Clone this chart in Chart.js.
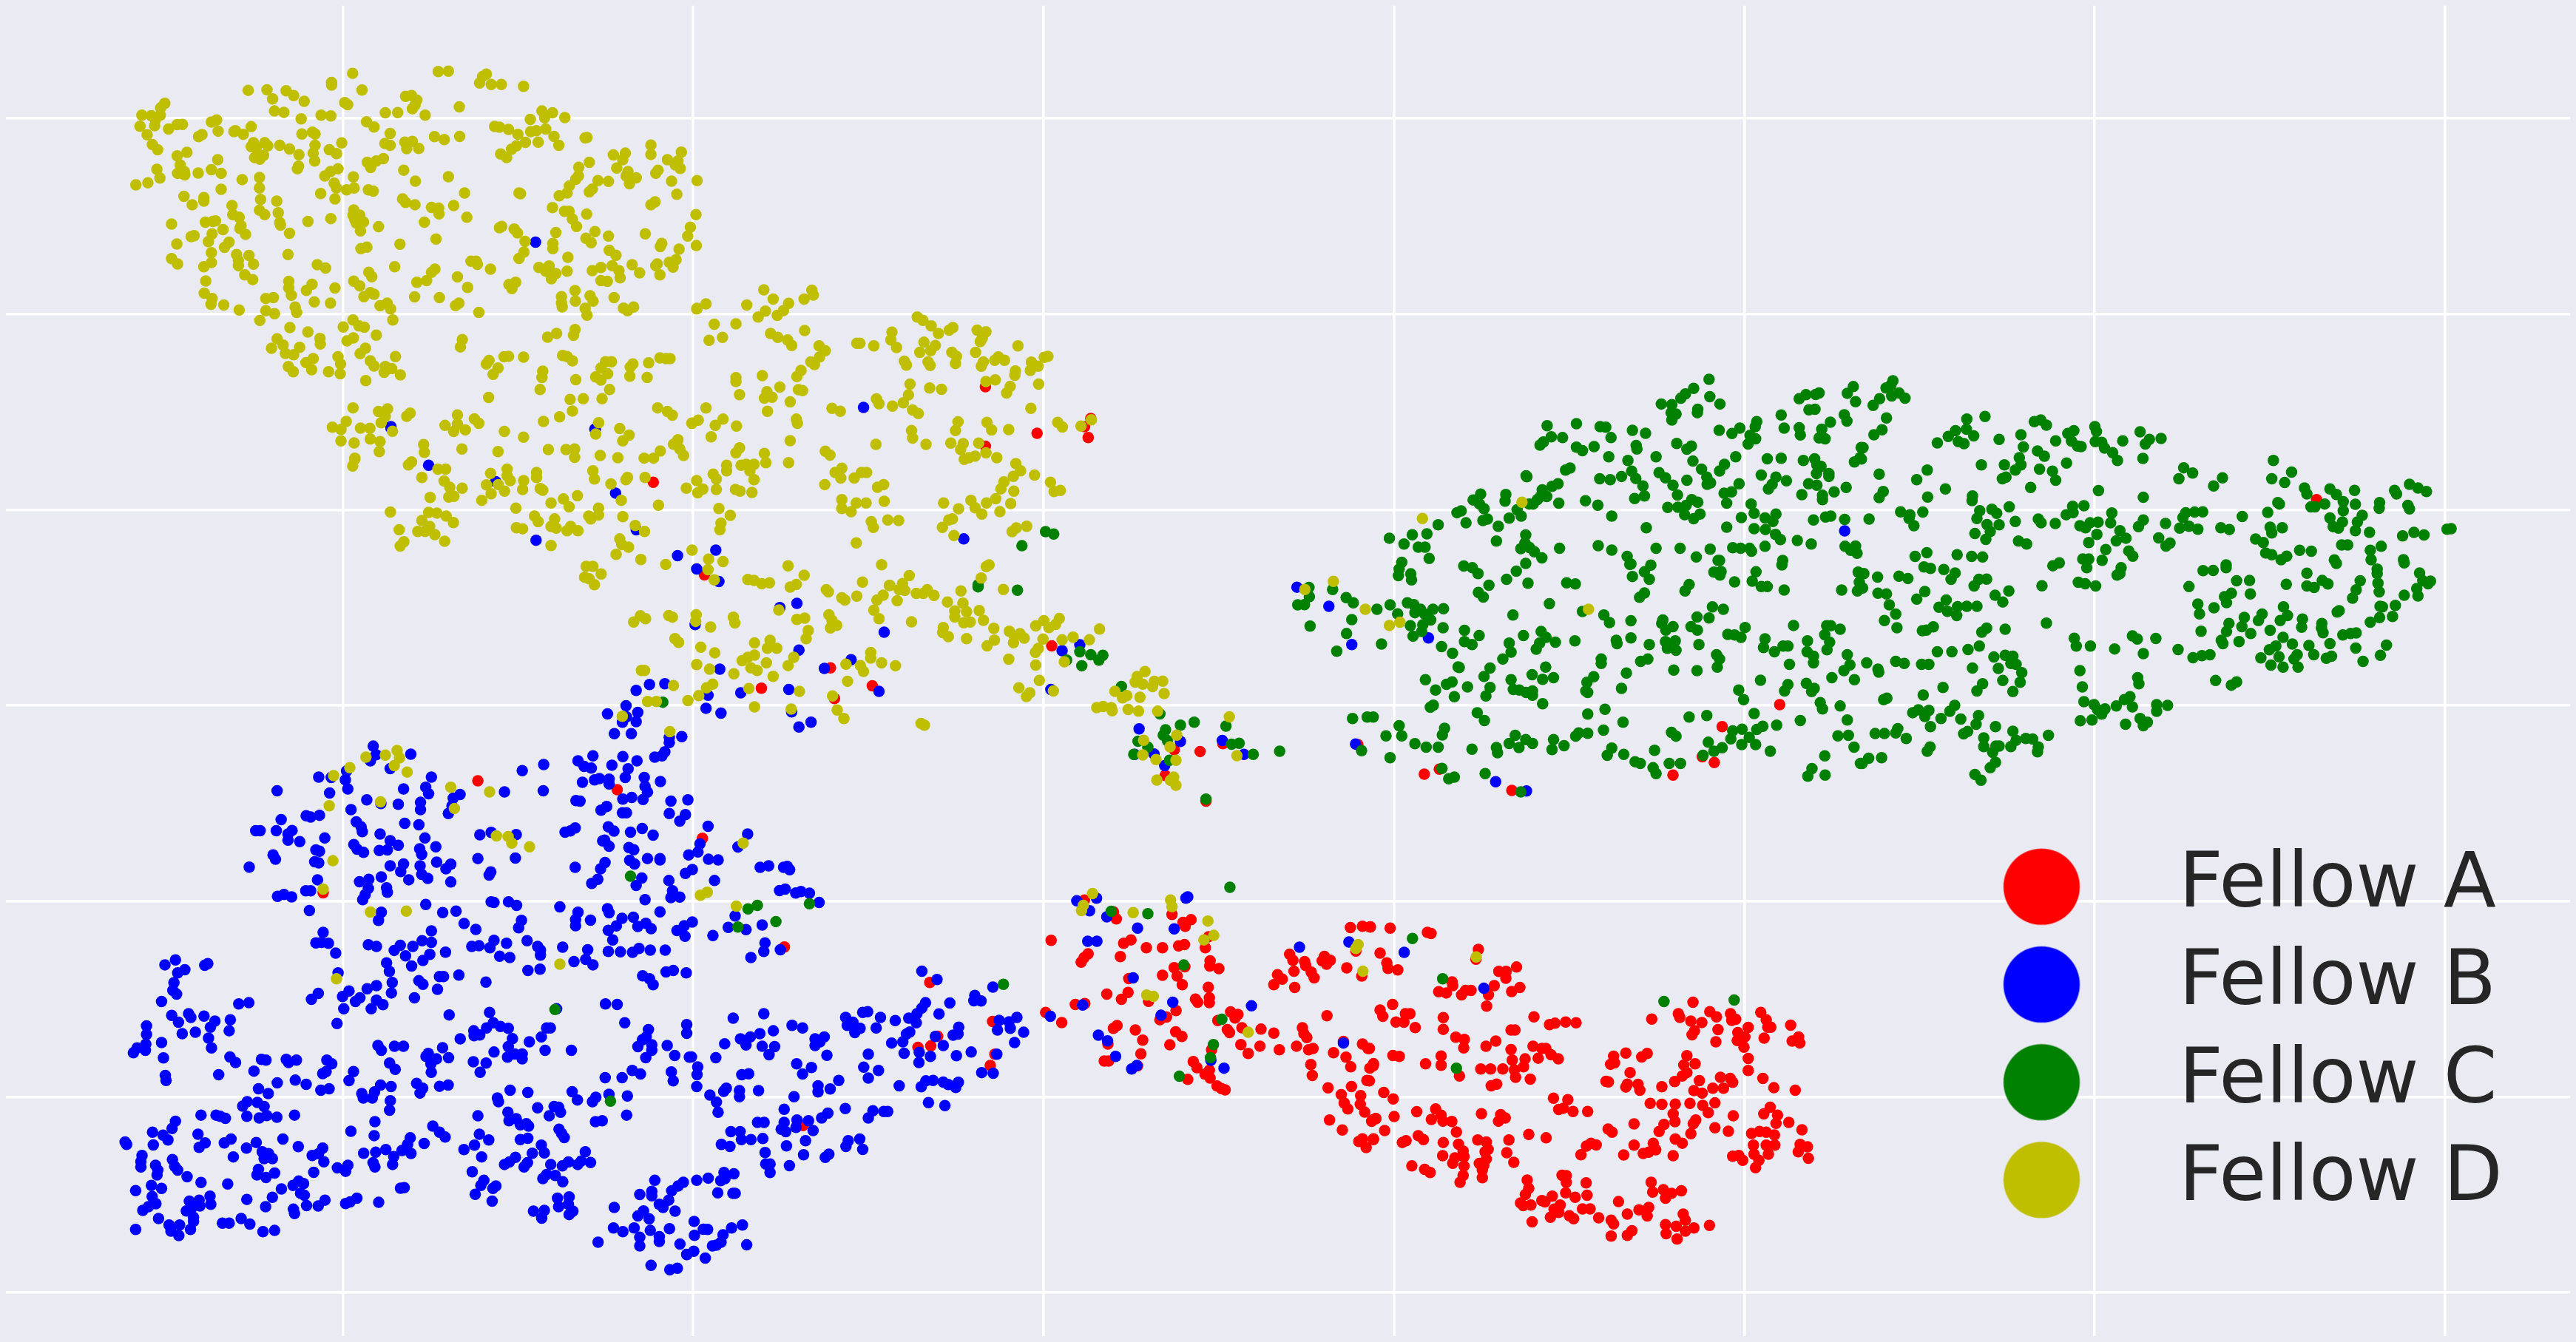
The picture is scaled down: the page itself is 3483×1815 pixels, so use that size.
<!DOCTYPE html>
<html><head><meta charset="utf-8"><title>Fellows t-SNE</title>
<style>html,body{margin:0;padding:0;background:#EAEAF2}canvas{display:block}</style>
<script src="https://cdn.jsdelivr.net/npm/chart.js@4/dist/chart.umd.min.js"></script>
</head><body><canvas id="c" width="3483" height="1815"></canvas>
<script>
const seriesNames=["Fellow A","Fellow B","Fellow C","Fellow D"];
const seriesColors=["#FF0000","#0000FF","#008000","#BFBF00"];
const xTicks=[-20,-10,0,10,20,30,40];
const yTicks=[30,20,10,0,-10,-20,-30];
const views={v1:[140,60,1.96,2.8],v2:[420,380,1.4255,2.24],v3:[1200,700,2.62,3],v4:[1720,480,1.96,2.529],v5:[2500,480,1.823,2.529],v6:[300,900,1.823,3],v7:[130,1280,1.96,3],v8:[780,1280,2.24,3],v9:[1380,1170,2.01,2.8],v10:[1850,1230,2.412,3]};

const yellow1=[649,90,877,83,904,82,1005,93,995,102,987,127,1018,133,1045,133,1104,140,593,125,593,135,674,154,371,155,421,153,472,157,436,188,492,175,520,197,628,202,636,210,790,178,806,175,820,193,815,212,808,225,933,218,736,241,769,240,842,250,441,234,466,239,512,264,565,250,591,253,1153,234,1181,241,1160,260,1214,259,1122,266,149,205,138,222,137,250,88,250,113,252,124,268,122,290,83,292,159,303,182,286,196,285,273,276,287,268,291,311,379,294,337,309,333,313,358,323,248,324,239,332,102,325,116,362,130,382,514,322,542,315,549,322,686,275,706,295,749,320,1027,293,1040,296,1064,304,1089,323,1123,313,1138,309,1163,303,1185,331,867,332,893,343,934,331,1273,335,1268,337,385,355,379,370,415,355,423,367,392,375,412,403,388,412,402,418,455,365,481,379,506,401,549,365,544,395,548,425,620,356,587,382,606,397,735,358,749,365,788,353,808,350,793,378,825,377,1109,354,1085,367,1072,380,1143,353,1198,365,1043,398,1059,412,1443,364,1443,400,1343,402,1375,395,1368,420,1524,391,1487,420,1279,430,1251,449,1352,452,1515,425,1508,440,1521,453,208,392,182,405,290,420,190,440,505,445,502,455,688,430,697,450,712,425,731,416,128,457,273,458,190,470,201,465,202,478,183,472,238,471,299,472,136,490,610,455,590,465,575,482,651,486,785,460,904,485,1250,482,1243,495,1382,465,1377,482,1404,489,1386,512,1462,460,1456,472,1302,500,1330,503,1498,502,1566,500,72,516,104,508,355,496,401,488,401,528,816,502,600,510,606,528,633,535,653,528,691,535,704,540,299,533,200,560,253,565,253,578,222,592,947,547,1092,547,1096,550,1226,520,1220,547,1199,558,1287,532,1279,543,564,549,602,570,447,578,404,572,782,570,790,583,815,592,1512,552,328,595,859,602,878,605,879,627,918,595,401,613,415,630,451,623,652,612,650,632,668,632,655,650,659,662,678,658,330,630,347,640,1181,603,1213,617,1225,617,1234,647,1272,628,1443,592,1454,581,1563,630,953,640,591,645,530,656,840,659,257,659,277,656,284,654,167,666,352,672,349,683,455,660,457,670,1046,675,1040,680,1079,685,1088,700,1245,675,1548,678,718,676,670,692,304,687,364,705,481,701,1190,698,1294,695,1330,712,1428,703,1541,712,1270,720,1284,737,1108,732,1182,740,1182,760,871,723,275,703,227,710,219,714,320,735,265,733,181,742,308,755,775,743,1472,740,1468,752,671,760,687,754,1105,773,1092,797,1518,762,1564,748,1332,766,1350,785,273,775,340,782,373,786,477,782,1222,793,167,798,183,818,273,813,253,829,345,805,345,825,385,819,555,821,577,834,761,829,964,808,978,808,981,820,1016,838,1145,832,1172,826,1163,846,1190,855,1178,875,1220,846,1287,844,1310,832,1340,825,1358,844,1361,871,1393,821,1413,852,1460,818,1456,825,1492,812,1510,802,1502,830,1467,860,692,850,700,867,868,838,859,850,362,860,383,878,258,883,928,868,479,885,479,910,652,884,668,902,541,896,526,919,602,910,820,888,846,882,955,908,1065,897,1083,888,1073,912,1310,882,1327,885,1241,920,254,930,486,938,696,928,679,943,706,934,275,950,272,972,306,975,418,950,438,947,547,963,590,968,814,944,880,947,1205,943,1205,967,1207,982,1242,960,1281,940,1289,960,1345,947,1370,987,1381,997,1397,983,1566,988,722,978,741,968,750,990,932,968,923,977,985,1003,1268,988,1273,1014,496,983,500,1003,347,994,418,997,441,1008,402,1034,756,1032,650,1032,482,1061,624,1059,666,1055,680,1060,530,1078,712,1090,1192,1084,1241,1069,1237,1091,1168,1098,448,1104,562,1103,563,1124,651,1101,634,1112,941,1107,936,1135,464,1128,433,1140,508,1137,683,1140,669,1161,470,1160,492,1165,544,1180,610,1173,763,1172,696,1188,1012,1187,1005,1200,1052,1173,1064,1171,1104,1174,1208,1168,1220,1172,1234,1188,1338,1192,1322,1192,1395,1200,1388,1212,1437,1196,1467,1177,1483,1180,1494,1180,478,1210,525,1195,617,1200,706,1208,736,1210,753,1218,733,1232,491,1230,540,1222,585,1230,616,1238,776,1242,1036,1216,1023,1240,1155,1228,1153,1252,1310,1216,1328,1238,1296,1250,1310,1262,1387,1247,1433,1252,1243,1260,684,1264,1148,1298,1333,1298,1011,1328,1228,1336,1263,1333,1313,1333,1234,1380,650,1368,718,1382,742,1372,1461,1368,802,1388,793,1400,1487,1382,1500,1396,736,1400,725,1425,928,1395,973,1410,985,1427,1200,1402,1157,1420,1304,1425,632,1420,895,1435,928,1430,918,1458,949,1452,1053,1458,595,1442,618,1450,670,1445,695,1446,755,1457,1360,1447,1385,1472,1368,1494,1296,1468,1104,1480,1552,1426,696,1487,722,1497,618,1494,653,1502,1515,1490,1503,1507,838,1508,840,1538,720,1535,940,1525,1036,1535,1170,1527,1217,1527,1240,1525,1468,1533,1520,1525,1530,1550,655,1560,1240,1557,1308,1550,1355,1558,1425,1560,1450,1560];
const yellow2=[869,17,962,18,965,33,947,45,887,45,836,63,917,58,757,60,739,75,872,82,907,80,858,100,895,95,773,122,815,121,948,141,882,150,896,162,763,171,789,162,915,170,923,187,976,188,988,203,977,222,960,237,967,245,941,263,933,282,815,285,866,279,815,297,900,314,936,322,944,325,875,328,822,337,885,345,870,348,920,359,876,388,757,378,932,412,934,425,790,412,742,415,730,425,775,431,816,433,767,466,920,478,1166,100,1177,110,1193,127,1207,150,1228,140,1235,132,1282,140,1299,145,1292,165,1288,175,1361,188,1117,146,1115,170,1126,193,1049,180,1055,180,1082,188,1179,177,1201,187,1171,208,1192,203,1233,208,1242,220,1240,242,1279,208,1141,235,1145,247,1187,237,1191,248,1294,237,1290,250,1323,222,1316,232,1335,232,1387,238,1412,223,1419,220,1400,250,1385,263,1356,265,1355,278,1317,292,1299,297,1152,305,1190,317,1213,321,1401,305,1346,312,1339,332,1149,338,1087,350,1092,365,1139,362,1118,372,1001,379,1017,388,1157,384,1168,395,1386,379,1245,420,1301,422,1310,445,1240,447,1155,447,1157,470,1438,422,1447,436,1483,433,1503,414,1343,444,1183,489,1086,489,1231,485,1255,487,1285,485,1250,505,1299,515,1278,525,1266,530,1257,535,1320,530,988,510,997,522,822,500,815,515,870,517,873,545,917,545,797,553,797,570,835,550,825,553,850,550,842,570,850,597,1357,548,1366,570,1352,587,1393,583,1334,604,1424,605,1328,625,1353,632,1318,655,1431,633,1443,630,1020,562,1007,575,1018,592,1044,592,1058,575,1068,575,1101,612,1089,620,987,612,771,580,777,595,739,600,751,626,719,623,741,637,777,627,814,627,823,632,846,636,1020,658,1020,685,1048,668,1067,668,1102,663,1038,695,1217,668,1270,660,1278,683,1246,686,1300,668,1291,702,1326,695,1347,670,1234,717,1227,720,782,685,804,706,786,730,784,750,1077,725,1081,743,1109,720,1130,722,1048,790,73,555,77,535,181,552,187,543,238,565,253,565,207,590,250,601,261,620,285,623,223,651,259,650,269,648,146,696,340,578,372,565,372,585,378,600,332,613,355,612,367,632,341,640,323,660,404,600,402,627,429,575,429,590,436,624,441,629,389,684,457,668,481,656,492,680,508,646,538,570,541,595,573,610,605,590,602,597,639,590,593,660,665,675,220,697,236,699,254,708,268,728,207,722,222,740,199,755,213,755,232,765,251,785,172,787,165,800,163,750,390,744,402,747,425,708,432,725,457,740,464,717,467,745,488,753,495,740,509,753,530,708,534,717,549,684,549,705,596,710,620,737,638,755,590,778,594,795,607,803,457,798,583,825,631,841,679,856,730,812,762,840,761,872,790,847,916,860,1097,857,525,862,538,862,554,885,522,895,531,900,541,918,773,903,838,902,850,905,865,915,880,912,947,889,932,917,920,925,990,933,994,940,1020,958,1026,965,1049,953,1060,910,1112,920,1088,965,1100,950,898,995,933,1024,948,1020,995,1010,1001,1027,1010,1042,998,1050,1082,996,1092,1022,617,1032,630,1013,640,1022,685,1012,692,1017,738,1010,737,1030,766,1047,810,1017,813,1035,955,1058,951,1083,697,1083,704,1094,851,1096,881,1088,876,1112,894,1112,747,1109,774,1126,927,1140,851,1133,838,1140,827,1150,916,1165,874,1157,739,1162,844,1172,856,1180,764,1176,811,1190,887,1198,1076,1125,1076,1142,1028,1161,1056,1165,1062,1183,1097,1157,1031,1213,638,1180,632,1180,694,1226,770,1222,758,1233,840,1235,743,1257,722,1272,938,1244,644,1275,661,1275,851,1291,922,1298,1002,1258,1011,1301,1024,1327,595,1320,687,1367];
const yellow3=[189,35,230,68,437,52,452,37,489,30,355,188,345,195,327,242,406,289,71,232,47,265,2,272,35,290,55,293,28,335,96,305,121,305,135,290,159,313,255,295,207,340,262,345,233,377,233,402,275,380,320,375,265,425,288,422,335,415,79,421,192,445,190,465,210,482,275,490,372,448,427,460,465,470,445,480,480,488,442,507,374,496,348,520,521,438,550,417,568,445,592,432,605,408,547,492,615,495,654,484,712,495,748,451,530,530,520,546,425,574,521,598,22,601,623,585,534,661,461,691,500,712,488,727,584,704,910,625,882,645,875,668,902,676,943,665,973,664,937,686,978,715,803,706,845,723,830,732,892,730,738,772,761,768,790,772,793,785,850,780,887,787,955,787,113,837,125,844,1210,810,1023,885,905,906,999,933,902,966,949,985,1020,988,1237,969,1012,1057,1000,1070,952,1069,1020,1090];
const yellow4=[665,499,400,555,163,772,87,800,248,868,312,924,340,913,842,868];
const yellow6=[422,348,393,367,428,378,345,375,415,410,447,436,305,418,265,451,555,498,651,517,381,558,254,574,564,585,668,697,697,700,706,727,750,742,263,799,1279,727,239,915,1190,928,1173,940,1262,985,356,1009,445,1005,825,1222,272,1282];
const yellow9=[193,115,168,160,163,180,304,188,406,140,410,165,508,220,524,275,497,292,341,503,359,508,618,645,918,310,912,325,931,412];
const yellow10=[355,203];

const blue1=[1136,735,751,1445,1295,1450];
const blue2=[147,435,542,442,220,553,350,603,582,638,428,782,622,750,1062,376,702,829,776,812,739,870,782,908,900,988,933,975,736,1040,1102,1063,937,1118,1038,1147,1092,1244];
const blue3=[265,82,678,515,615,539,575,698,889,859,1036,911,942,962,980,1010,1185,907,1262,964,873,964];
const blue4=[1524,598,66,792,151,858,416,967,212,990,222,1333,595,1463,677,1495];
const blue6=[1047,78,1085,75,1014,102,1221,15,1480,12,1192,122,1273,112,1392,98,989,165,1187,175,1224,195,943,198,1018,192,990,210,1014,230,980,232,960,279,1002,279,1399,190,1447,232,1417,252,1096,295,1096,315,1127,291,1085,353,1060,375,1078,370,907,370,981,373,1016,390,870,390,885,413,903,420,954,408,994,423,987,458,1034,458,881,478,911,468,923,463,947,465,947,485,1074,475,1036,495,1042,518,1031,548,981,547,1003,540,1100,555,1142,550,865,553,875,555,941,577,927,592,980,603,990,603,1096,606,1136,610,1122,637,1192,658,363,330,370,365,356,390,456,363,405,422,297,432,259,458,228,457,294,468,300,505,507,457,125,513,255,522,438,505,493,498,500,525,732,430,785,405,784,513,688,517,578,528,561,543,347,550,382,565,425,568,480,560,480,590,558,575,549,606,308,590,197,615,208,620,230,613,135,631,321,640,333,660,336,680,441,646,476,652,72,676,83,676,123,676,162,675,152,690,152,715,181,721,243,706,380,690,491,706,655,683,627,693,717,692,838,682,851,677,863,665,945,660,959,678,1000,682,1029,667,1056,694,315,733,323,752,339,765,378,757,398,755,405,717,425,736,478,750,483,773,518,742,221,755,230,760,115,775,121,793,218,803,228,808,56,825,405,820,438,812,431,843,479,820,520,805,555,813,543,832,622,790,715,788,936,715,947,740,931,718,996,745,1008,754,1290,690,1266,743,1172,730,1167,763,1144,775,1193,793,1217,796,998,797,1010,812,1042,790,1073,790,1073,796,937,806,926,832,863,826,1153,835,1136,851,1321,826,1342,820,1379,826,1388,822,1394,836,654,845,650,858,483,855,498,871,451,877,383,865,555,886,352,875,329,885,225,877,1028,870,919,875,904,892,1014,900,1095,880,1208,880,196,922,208,922,142,937,126,945,161,947,351,912,396,910,398,928,343,938,337,958,1369,921,1383,915,1409,931,1422,925,1443,932,1104,922,1100,950,1122,948,1036,958,1467,970,655,967,662,970,698,967,718,982,825,988,943,995,947,1012,493,978,205,1003,383,1010,376,1043,535,1011,568,1005,870,1010,1073,1008,1259,1025,864,1040,864,1065,901,1042,979,1035,1007,1030,965,1066,945,1084,1018,1068,1038,1055,1051,1077,1153,1050,1133,1065,1115,1085,1135,1108,730,1043,723,1073,588,1056,617,1080,1242,1072,1286,1081,1326,1062,1204,1105,239,1092,507,1086,221,1135,235,1133,252,1137,351,1143,371,1150,484,1126,507,1133,461,1150,430,1145,415,1166,443,1188,270,1177,662,1125,693,1137,744,1126,607,1150,625,1147,652,1155,770,1150,777,1165,777,1185,832,1153,956,1123,1333,1135,1371,1163,1330,1170,1298,1195,945,1170,975,1172,1005,1174,1021,1158,1049,1165,1086,1165,894,1163,542,1173,503,1182,486,1207,676,1190,701,1195,458,1230,396,1217,403,1252,860,1212,889,1203,907,1225,746,1248,776,1243,1030,1270,1047,1282,1056,1306,1088,1254,1106,1248,1138,1258,527,1273,537,1273,575,1267,276,1258,476,1290,486,1305,642,1296,410,1297,522,1325,371,1310,348,1323,303,1332,287,1355,227,1342,210,1366,408,1340,465,1360,330,1360,319,1375,371,1370,387,1388,55,1380,30,1385,290,1405,358,1405,551,1430,651,1420,938,1385,967,1387,817,1405,1330,1425];
const blue7=[197,65,169,85,283,80,275,87,222,105,203,118,193,158,190,190,200,205,160,235,187,292,232,285,238,300,273,295,205,320,302,315,290,340,343,310,340,355,215,367,250,361,120,335,120,370,285,385,118,410,117,435,95,425,85,445,160,403,293,425,165,466,342,462,357,485,426,472,438,475,492,472,498,485,519,475,406,520,312,535,170,538,172,558,468,568,516,557,545,574,418,592,444,612,584,598,606,592,600,475,613,490,598,522,589,530,671,522,659,559,627,325,736,415,745,435,780,418,804,418,870,448,864,460,892,470,908,424,924,465,877,490,878,525,767,487,782,513,955,388,991,355,1007,372,992,375,1025,343,1043,322,1062,337,1083,345,1094,387,1083,420,1139,400,1171,380,1185,343,1195,343,1045,442,1081,463,1100,450,1120,450,1120,470,1181,435,1251,435,990,482,1024,487,1008,525,1393,322,1456,350,1450,380,1440,392,1465,412,1465,435,1428,420,1449,465,1506,415,1526,456,1565,463,1558,330,1558,365,1413,517,1435,532,1517,523,1522,560,1341,547,1386,547,693,612,697,630,721,630,727,605,743,577,771,583,769,641,767,680,839,570,855,590,848,610,900,582,923,577,1054,630,1057,645,1088,598,1135,607,1253,604,1267,638,1316,627,1307,645,1351,615,1400,622,1161,670,1205,665,1217,668,1222,688,1192,703,1398,700,1315,727,1333,723,1002,703,1082,688,1104,715,1085,723,1115,740,1131,735,1137,745,388,645,376,663,415,648,433,665,387,705,420,712,440,702,467,709,514,700,265,700,305,700,316,705,330,713,197,725,188,755,136,770,164,782,177,802,138,822,63,810,67,820,257,778,276,814,260,832,327,814,345,798,412,812,483,798,524,829,386,835,428,850,445,858,455,878,433,878,351,871,108,865,105,890,105,912,144,905,150,925,148,945,189,882,195,910,203,925,228,952,589,835,561,865,578,858,592,891,565,934,628,916,656,905,650,930,418,922,414,945,438,955,461,937,664,766,728,727,726,784,698,856,730,852,757,841,778,870,800,845,822,793,815,820,824,857,859,816,882,745,900,770,915,790,723,895,728,912,775,902,1006,778,1031,802,993,823,965,841,1012,871,987,932,1115,800,1135,795,1171,823,1179,855,1147,856,1102,873,1086,892,1073,902,1134,895,1125,912,1218,758,1225,775,1232,792,1288,850,1196,902,1227,908,1243,892,1268,902,1277,888,1302,894,1185,943,1208,947,1175,960,1228,973,1018,967,1010,988,1050,990,1042,1000,995,1024,1040,1052,133,988,160,1000,91,1009,135,1033,145,1063,125,1075,110,1090,265,976,336,982,510,988,525,970,538,980,479,1002,530,1020,540,1028,455,1036,387,1045,437,1075,595,1048,577,1072,546,1070,511,1085,514,1103,234,1052,260,1048,289,1032,291,1065,262,1072,240,1080,226,1092,245,1118,245,1135,152,1123,180,1150,208,1150,185,1175,237,1168,206,1193,91,1168,322,1142,340,1142,372,1123,395,1146,430,1177,461,1172,680,1040,650,1062,662,1055,738,1057,796,999,806,997,1214,1040,1245,1035,1243,1065,1217,1075,1255,1093,1245,1107,1150,1093,1179,1090,1172,1122,1473,967,1549,975,1535,990,1518,1010,1433,1025,1465,1012,1465,1030,1510,1048,1485,1065,1495,1078,1527,1093,1365,1078,1443,1092,1428,1113,1458,1125,1363,1162,1388,1177,1418,1162,1461,1172,1512,1165,1433,1200,1485,1197,1485,1217,1433,1235,1540,1228,1558,1270,1322,1220,1463,1315,1513,1333,1533,1327];
const blue8=[466,303,588,355,645,333,677,343,488,388,518,380,505,413,547,367,554,418,592,420,575,453,440,408,413,465,339,462,358,503,356,535,355,583,715,388,743,380,715,415,730,400,751,455,659,490,704,505,677,532,492,535,513,531,445,590,437,603,395,618,415,647,420,688,485,600,485,625,543,600,651,625,724,580,724,605,761,593,787,558,808,300,821,320,830,320,813,333,852,345,836,362,621,676,540,730,560,730,621,730,612,758,626,768,660,720,657,750,695,723,709,763,735,712,754,692,807,673,459,768,487,768,491,800,520,800,556,796,430,820,456,828,686,805,628,826,563,853,680,862,565,900,578,900,578,935,637,907,746,873,757,860,816,805,809,828,851,798,860,840,468,940,438,935,441,960,428,968,390,958,355,967,419,1018,465,1020,472,1020,347,1135,375,1167,388,1168,348,1192,461,1162,494,1150,435,1190,429,1220,415,1232,403,1235,507,1231,346,1257,325,1271,381,1285,1040,111,1086,145,1256,176,1201,210,1198,232,1220,233,1125,241,1051,240,1040,262,1025,285,1092,286,1000,303,1023,322,860,280,875,277,914,300,959,313,901,343,1275,312,1305,318,1329,300,1309,345,1270,352,1322,403,1152,340,1135,373,1150,368,1081,378,1003,360,993,368,982,400,948,405,1105,415,1032,443,986,447,1066,460,1031,485,1145,457,1190,442,1268,451,1222,526,1257,529,877,451,863,504,908,517,877,548,971,580,1038,584,1052,560,1074,558,1105,565,1120,575,1143,587,1151,566,1060,649,1110,661,891,682,877,712,924,685,936,685];
const blue9=[150,143,204,133,185,181,232,204,316,247,416,250,453,128,448,133,180,297,205,297,304,437,166,541,412,530,380,580,78,584,5,645,209,656,234,678,256,737,300,785,314,772,627,544,516,752,552,782,758,320,893,300,878,686];
const blue10=[119,184,380,331];

const green3=[316,270,316,278,456,292,556,52,585,62,472,110,631,578,678,544,717,556,760,558,746,578,685,601,826,686,963,798,1085,832,1198,848,1036,844,983,863,975,885,990,908,885,910,920,934,870,964,997,988,1218,922,1245,918,1295,964,1127,1147];
const green4=[1163,75,1122,106,1100,125,1088,140,1036,160,1064,162,1062,190,1075,195,1064,215,1165,135,1192,160,1133,178,1132,190,1403,142,1421,128,1447,127,1456,122,1531,123,1547,100,1553,152,1429,180,1445,178,1355,198,1523,197,1530,219,1486,223,732,235,810,228,873,238,888,240,902,276,959,251,994,261,743,273,773,276,722,291,713,302,810,309,826,321,857,307,969,303,971,315,1077,296,1104,316,1116,305,1190,251,1224,262,1245,243,1290,221,1286,238,1272,268,1287,280,1267,298,1363,243,1403,242,1406,267,1463,247,1456,277,1472,280,1568,310,896,342,1022,342,947,355,1120,357,1234,342,1318,349,1355,347,1414,355,1444,349,1450,370,1461,375,1550,360,1565,345,1204,368,1143,385,1191,391,793,381,781,388,957,392,1030,397,968,417,930,410,872,418,900,421,1047,415,1104,423,1067,440,987,443,1157,412,1167,432,1158,437,1243,435,1302,405,1341,412,1369,425,1331,437,1321,453,1449,400,1482,400,1482,410,1428,435,1450,440,1528,448,1496,463,676,408,678,411,761,435,745,444,719,456,731,479,1079,474,991,477,965,486,1223,463,1203,468,1210,502,1410,473,1465,475,1465,490,763,502,834,494,867,509,1117,490,1133,499,1102,510,1053,517,1080,516,1098,542,1122,556,1139,540,1275,505,1283,537,1249,552,1341,540,1312,553,1333,565,1441,560,1473,550,1487,547,1524,558,555,471,622,472,535,491,620,495,552,505,564,521,714,480,706,490,695,505,684,505,652,525,663,547,631,554,503,529,492,535,516,570,561,562,573,557,442,577,602,582,904,547,996,587,1210,585,1283,590,1313,593,1340,610,1353,628,1398,631,1435,643,412,608,373,611,312,623,351,643,389,654,407,654,418,693,597,633,675,612,673,640,662,659,685,655,698,670,718,691,765,658,868,649,904,664,1022,658,1086,658,1166,661,1226,656,1247,658,1271,658,1276,668,1312,651,1129,688,1187,700,1191,700,1359,700,1357,715,1525,651,1553,650,1540,665,1557,675,945,686,952,713,955,712,1008,716,345,706,338,730,336,752,369,746,371,767,510,719,533,725,548,745,675,710,650,737,1176,740,1195,738,1192,750,1288,739,991,739,959,755,1004,765,624,765,681,778,784,777,807,781,577,785,1231,774,1278,771,1302,790,1318,790,1363,802,1516,802,1560,740,1563,775,1558,805,1110,783,1099,805,991,812,978,827,549,810,562,826,98,793,161,800,99,825,197,828,216,846,68,853,86,852,314,853,279,868,360,846,377,852,395,868,380,880,428,868,456,866,738,849,826,876,1172,860,1201,868,334,884,406,885,422,905,641,888,883,888,898,914,212,904,101,926,198,952,172,1013,291,988,1163,898,1131,895,1040,905,1037,917,955,908,1048,940,1067,928,1132,940,1115,928,1388,924,1476,925,1487,925,1512,937,1471,956,1484,982,1259,931,1213,955,1231,957,1248,965,368,925,401,922,398,945,455,932,375,961,512,941,551,959,512,980,532,990,451,997,480,1020,669,959,716,945,729,965,712,985,703,1006,754,982,806,977,631,985,636,1016,614,1040,916,975,918,987,955,967,1004,990,1047,980,1073,977,1052,1003,1075,1010,1136,990,1312,970,1308,1000,1337,1015,1360,995,1373,995,1425,977,1424,1015,1477,1008,1441,1030,1441,1053,1183,1025,1191,1040,1531,1025,876,1040,876,1055,981,1048,1000,1040,495,1067,498,1069,580,1071,728,1068,1069,1078,1131,1080,1185,1068,1377,1058,1538,1060,1522,1080,408,1111,564,1100,636,1111,692,1094,720,1110,749,1104,856,1101,838,1120,943,1088,464,1127,479,1119,520,1136,580,1138,435,1147,642,1145,658,1147,676,1155,693,1150,693,1165,835,1150,840,1155,930,1141,485,1170,569,1167,1300,1113,1490,1104,1550,1111,1422,1124,1373,1128,1364,1150,1443,1141,1436,1152,1242,1147,1255,1180,720,1194,429,1199,421,1206,886,1213,1459,1190,1465,1212,1512,1202,214,1245,253,1240,269,1240,546,1225,565,1252,840,1230,934,1258,1110,1240,1157,1235,1283,1228,1406,1252,1531,1250,338,1270,459,1279,453,1302,303,1305,345,1305,882,1285,1343,1268,1306,1272,1290,1283,1251,1282,1226,1288,1063,1293,1075,1306,816,1295,840,1296,808,1306,647,1303,675,1318,749,1318,1221,1315,1270,1310,1250,1335,1287,1335,1506,1305,1534,1303,1161,1327,380,1332,410,1344,442,1344,532,1351,597,1345,600,1363,631,1331,657,1345,693,1331,777,1339,745,1352,904,1347,892,1372,936,1369,1018,1355,1198,1346,1176,1358,1147,1372,1326,1358,1549,1344,1471,1374,314,1380,238,1356,20,1358,966,1394,980,1400,1014,1415,1022,1435,1057,1400,1087,1400,452,1417,485,1447,470,1453,567,1435,1437,1418,1426,1444,1472,1440,1566,1400,662,1498];
const green5=[115,80,110,95,98,105,130,122,112,132,145,140,82,142,66,165,99,208,88,249,68,266,41,311,37,350,298,212,343,203,270,252,297,247,252,272,315,270,277,290,291,297,225,294,378,282,432,266,465,221,481,215,495,233,548,262,563,252,557,288,518,287,438,308,615,238,619,255,616,290,632,292,684,287,727,256,750,282,740,298,779,279,572,305,581,307,639,312,659,328,671,355,734,348,473,322,490,340,428,345,334,370,391,370,432,370,418,388,478,385,510,392,518,423,545,364,386,418,395,412,81,402,200,388,174,421,456,448,245,453,624,459,91,462,81,483,201,481,735,482,312,477,311,493,835,380,857,398,823,418,931,415,909,443,1057,355,1102,395,1053,418,1085,431,1134,450,1140,470,1197,453,1213,472,1258,458,1357,458,1362,470,1394,437,1415,450,1436,462,1230,497,1260,506,1184,505,1150,515,1160,515,1072,505,1068,500,1043,534,1320,500,1319,520,1390,510,1394,522,1230,528,1197,553,1277,544,1265,567,1228,567,1205,583,1218,588,1260,597,1295,603,1377,615,1405,603,1430,612,1487,592,1497,590,134,532,157,542,189,533,155,555,167,580,330,528,323,555,360,523,372,537,403,515,588,511,560,513,561,535,544,542,657,536,56,557,418,565,475,557,482,570,517,572,578,580,592,587,603,570,623,568,654,570,735,560,723,583,790,572,840,535,862,533,882,532,833,552,825,588,848,582,870,592,980,548,927,587,948,593,348,576,378,577,356,600,318,607,345,627,620,610,677,597,692,623,668,632,600,638,773,622,791,650,801,640,426,633,446,643,1013,626,1032,638,1049,585,1053,605,1079,587,1038,674,1053,680,1076,697,1090,685,1122,665,1151,668,1226,646,1241,646,1297,665,1299,697,1324,651,1208,698,1213,710,1379,697,1381,708,170,686,199,673,274,680,310,686,337,688,642,662,699,667,709,685,585,695,600,695,633,699,595,725,527,708,511,718,192,722,208,727,241,731,269,743,259,765,43,745,77,757,130,754,152,762,40,795,78,813,99,815,680,725,677,745,670,750,940,715,940,725,883,735,908,734,1140,744,1314,730,1314,745,1419,743,1427,770,1446,771,1440,780,574,775,591,780,617,788,484,787,328,765,347,764,316,788,966,770,998,769,848,790,1089,782,1140,788,1158,793,1178,769,1192,781,1272,770,1262,801,1316,778,1319,808,1412,797,1415,822,194,807,174,833,247,836,402,805,368,820,387,843,106,853,229,861,250,875,273,890,275,859,298,858,323,858,953,813,936,825,941,845,1000,815,1253,830,1381,820,122,885,94,907,125,932,188,942,198,940,215,929,495,916,335,947,347,933,393,937,870,850,874,884,910,863,1082,860,1092,890,1074,907,1029,885,1020,907,985,896,979,928,947,917,941,945,878,944,1049,941,1001,952,1129,902,1127,930,1177,917,1176,933,1180,949,1220,873,1215,878,1297,913,1321,858,1327,860,1320,897,1359,855,1352,893,564,968,569,995,604,995,664,1005,708,960,720,971,766,969,735,1021,821,1007,225,1015,261,1015,301,1007,329,995,365,1033,393,1027,412,1030,407,1055,420,1058,50,1053,122,1048,143,1055,186,1058,204,1058,928,975,932,987,972,980,1081,965,1063,995,1047,1008,1026,1036,1071,1032,1104,988,1145,993,1157,1025,1116,1025,1108,1040,1051,1061,1081,1068,1118,1068,1197,987,1188,1037,1201,1030,1229,957,1248,952,1262,950,1261,1002,1337,992,1322,1027,1279,1048,858,1035,880,1028,900,1025,312,1071,376,1072,78,1075,80,1085,434,1087,430,1120,387,1114,578,1080,721,1104,724,1125,584,1136,914,1114,953,1130,966,1119,337,1125,323,1150,239,1138,412,1152,190,1164,92,1180,100,1175,588,1187,613,1197,702,1170,688,1180,668,1202,708,1205,768,1197,795,1200,768,1220,640,1212,622,1215,632,1230,178,1215,164,1225,204,1217,194,1238,234,1245,268,1200,256,1220,283,1247,327,1235,321,1265,369,1273,208,1273,579,1253,608,1250,691,1265,727,1245,745,1258,735,1270,71,1297,94,1297,127,1280,122,1295,148,1314,300,1290,290,1298,412,1289,420,1320,444,1314,461,1316,500,1303,340,1312,340,1342,370,1340,378,1340,407,1342,475,1343,473,1360,207,1343,200,1358,362,1362,55,1382,39,1400,87,1380,369,1396,356,1415,318,1438,333,1458];
const green6=[1000,862,1291,996,1314,982,1443,975,1360,1048,1266,1070,813,1408,1080,150];
const green7=[1355,643];
const green8=[1288,165];
const green9=[244,183,344,192,442,388,546,595,523,692,515,742,430,813,568,91];
const green10=[146,127,245,292,290,658,970,385,1200,379];

const red2=[1298,313,1502,410,1490,435,1398,455,1497,468,1298,495,655,605,754,888,998,1172,1079,1227];
const red3=[578,520,1014,945,1106,952,1187,920,982,1050,1127,1155];
const red4=[1198,1273,1351,1197,1145,1377,1177,1397,1067,1440,405,1437,445,1420,638,1493,228,1335];
const red5=[1164,490];
const red6=[622,472,967,508,1178,707,239,930,1381,1152,1324,93,1505,135];
const red8=[1064,157,1255,317,1088,377,1067,417,1028,423,1262,451,1248,497,678,743];
const red9=[171,140,250,185,258,212,410,195,462,215,440,225,446,240,80,294,298,292,278,305,340,322,384,322,428,315,444,310,501,322,510,280,181,345,170,360,162,377,269,356,416,398,445,395,514,372,513,392,538,402,384,427,424,430,438,463,292,440,509,473,232,499,290,493,272,519,474,518,480,530,512,513,512,532,346,527,172,535,146,539,65,569,109,608,421,562,377,597,395,587,570,567,590,577,582,590,535,600,601,628,561,635,567,646,653,633,688,648,260,619,250,630,310,636,330,675,420,643,437,661,235,690,404,693,598,692,650,698,618,726,703,712,750,698,325,727,225,755,237,755,518,712,468,757,478,780,512,790,500,805,514,820,453,825,533,850,545,860,555,865,316,773,731,347,740,370,772,375,775,390,790,415,798,437,743,412,698,425,711,442,688,463,745,474,826,355,842,370,832,385,820,372,887,399,928,430,897,245,930,240,951,242,912,335,833,582,766,628,770,650,778,665,795,707,783,712,851,723,885,740,898,777,789,768,793,810,836,857,900,852,872,883,880,915,890,938,925,887,924,920,936,950,840,980,875,1018,920,1062,930,1052,940,1085,960,1052,955,985,966,975,942,829,878,680,930,690,945,707,960,765,950,782];
const red10=[8,80,73,85,195,102,207,107,40,187,62,227,66,250,98,256,362,172,354,212,429,262,453,262,487,244,452,290,276,305,278,320,232,345,257,350,320,340,338,340,307,358,414,320,395,358,389,404,498,328,471,344,81,397,40,420,49,446,123,435,138,435,92,469,118,470,155,492,247,451,247,499,288,531,316,540,314,575,5,577,82,606,103,610,240,608,240,646,189,640,300,690,18,648,5,710,370,661,402,661,442,661,387,568,419,547,469,502,482,502,544,448,595,480,613,474,648,469,682,472,541,568,570,577,583,577,600,603,558,617,624,620,469,582,473,625,515,620,510,652,480,665,484,695,532,703,404,730,422,723,52,757,83,784,86,856,160,836,222,825,240,850,208,868,246,875,275,876,15,870,26,864,55,913,18,950,372,844,435,848,450,862,428,875,608,781,655,787,625,827,640,822,672,835,720,835,290,919,165,934,182,950,125,955,113,962,247,962,297,969,312,997,245,1016,285,1025,278,1047,315,1020,315,1058,144,1058,186,1072,204,1085,312,1097,302,1125,360,952,388,960,394,990,384,1000,388,1030,365,1048,380,1055,375,1075,375,1106,462,952,455,1004,478,1043,527,929,584,943,522,1116,527,1150,516,1175,500,1210,509,1220,534,1218,538,1287,570,1200,580,1205,604,1182,636,1096,650,1098,650,1125,648,1168,679,1186,715,1127,718,1178,630,1218,610,1235,625,1248,598,1268,660,1262,674,1274,703,1234,728,1234,756,1270,797,1280,805,1295,797,1345,821,1204,850,1255,888,1238,920,1228,915,1263,865,1323,850,1342,928,1125,933,1165,968,1155,995,1170,975,1190,1027,1160,975,1298,977,1335,1013,1357,1010,1305,1033,1255,1040,1280,1040,1325,1068,1312,1119,1301,930,457,1017,435,1022,450,1065,388,1120,427,1142,448,1058,465,1094,471,1070,505,1062,521,1147,500,1140,550,1188,435,1192,462,1205,458,1212,512,1210,545,1235,530,1246,491,1298,535,1287,430,1305,460,1310,490,1320,490,1385,482,1390,547,1411,530,1415,555,1232,572,1246,618,1246,667,845,596,805,609,795,642,808,636,897,612,915,598,859,676,780,712,788,714,850,723,845,735,885,724,891,748,963,734,1045,607,1035,645,1072,640,1045,676,1030,690,1005,713,1086,709,1068,750,1095,760,1130,740,1165,740,1155,695,1187,700,1195,716,1294,700,1330,738,1400,748,925,802,963,806,1007,805,1055,802,1097,810,1137,800,1115,840,1000,845,1006,877,970,888,954,917,872,886,787,907,800,920,1074,870,1066,885,1058,926,1137,902,1181,916,1197,853,1318,818,1297,845,1342,850,1337,884,1379,880,1422,910,1007,948,1030,965,935,965,943,992,872,973,838,1013,902,1007,920,1002,1000,1016,748,972,731,965,716,977,698,1012,1257,925,1283,917,1305,920,1332,931,1263,973,1265,1010,1281,1035,1270,1065,1305,973,1333,973,1312,1010,1195,1018,1215,1015,1228,1035,1416,970,1440,980,1410,1000,1443,1027];

// One axis step is 475.8 px across and 267 px down; the origin sits at the (1409.5, 954.5) crossing.
function toValues(view,flat){
  const [l,t,sx,sy]=view,out=[];
  for(let i=0;i<flat.length;i+=2){
    out.push({x:(l+flat[i]/sx-1409.5)/47.58,y:(954.5-(t+flat[i+1]/sy))/26.7});
  }
  return out;
}
const fellowA=[...toValues(views.v2,red2),...toValues(views.v3,red3),...toValues(views.v4,red4),...toValues(views.v5,red5),...toValues(views.v6,red6),...toValues(views.v8,red8),...toValues(views.v9,red9),...toValues(views.v10,red10)];
const fellowB=[...toValues(views.v1,blue1),...toValues(views.v2,blue2),...toValues(views.v3,blue3),...toValues(views.v4,blue4),...toValues(views.v6,blue6),...toValues(views.v7,blue7),...toValues(views.v8,blue8),...toValues(views.v9,blue9),...toValues(views.v10,blue10)];
const fellowC=[...toValues(views.v3,green3),...toValues(views.v4,green4),...toValues(views.v5,green5),...toValues(views.v6,green6),...toValues(views.v7,green7),...toValues(views.v8,green8),...toValues(views.v9,green9),...toValues(views.v10,green10)];
const fellowD=[...toValues(views.v1,yellow1),...toValues(views.v2,yellow2),...toValues(views.v3,yellow3),...toValues(views.v4,yellow4),...toValues(views.v6,yellow6),...toValues(views.v9,yellow9),...toValues(views.v10,yellow10)];
const seriesData=[fellowA,fellowB,fellowC,fellowD];

function legendDot(color){
  const c=document.createElement('canvas');c.width=106;c.height=106;
  const g=c.getContext('2d');g.fillStyle=color;g.beginPath();g.arc(53,53,51.6,0,Math.PI*2);g.fill();
  return c;
}
const legendDots=seriesColors.map(legendDot);
const placeLegend={id:'placeLegend',afterLayout(chart){
  const l=chart.legend;l.left=2598.8;l.right=3483;l.top=1119;l.bottom=1815;
}};
Chart.defaults.font.family="'DejaVu Sans'";
new Chart(document.getElementById('c'),{
  type:'scatter',
  data:{datasets:seriesNames.map((n,i)=>({label:n,data:seriesData[i],backgroundColor:seriesColors[i],borderColor:seriesColors[i],borderWidth:0,pointRadius:7.75,pointHoverRadius:7.75,order:4-i}))},
  plugins:[placeLegend],
  options:{
    responsive:false,animation:false,devicePixelRatio:1,events:[],
    layout:{padding:0},
    scales:{
      x:{type:'linear',min:-29.624,max:43.58,border:{display:false},grid:{color:'#FFFFFF',lineWidth:3.6,drawTicks:false},ticks:{display:false},afterBuildTicks(a){a.ticks=xTicks.map(v=>({value:v}))}},
      y:{type:'linear',min:-32.23,max:35.75,border:{display:false},grid:{color:'#FFFFFF',lineWidth:3.6,drawTicks:false},ticks:{display:false},afterBuildTicks(a){a.ticks=yTicks.map(v=>({value:v}))}}
    },
    plugins:{
      title:{display:false},tooltip:{enabled:false},
      legend:{display:true,position:'chartArea',align:'start',labels:{
        usePointStyle:true,pointStyleWidth:267,padding:28.2,color:'#262626',
        font:{family:"'DejaVu Sans'",size:104},
        generateLabels(){return seriesNames.map((n,i)=>({text:n,fillStyle:seriesColors[i],strokeStyle:seriesColors[i],lineWidth:0,pointStyle:legendDots[i],fontColor:'#262626',datasetIndex:i,hidden:false}))}
      }}
    }
  }
});
</script></body></html>
